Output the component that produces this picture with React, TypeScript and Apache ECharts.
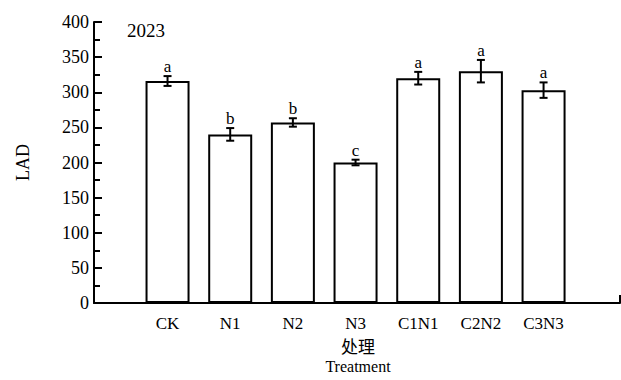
import React, { useEffect, useRef } from "react";
import * as echarts from "echarts";

const categories = ["CK", "N1", "N2", "N3", "C1N1", "C2N2", "C3N3"];
const ladValues = [316, 240, 257, 200, 320, 330, 303];
const ladErrors = [7, 9, 6, 4, 9, 16, 11];
const sigLetters = ["a", "b", "b", "c", "a", "a", "a"];
const yMin = 0;
const yMax = 400;
const yStep = 50;

const SERIF = "Liberation Serif, Times New Roman, serif";
const CJK = "Noto Sans CJK SC, sans-serif";

export default function App() {
  const ref = useRef<HTMLDivElement>(null);
  useEffect(() => {
    if (!ref.current) return;
    const chart = echarts.init(ref.current, null, { renderer: "svg" });
    const errData = categories.map((_, i) => [i, ladValues[i], ladErrors[i]]);
    chart.setOption({
      animation: false,
      backgroundColor: "#fff",
      grid: [
        { left: 94, top: 22, width: 526, height: 281 },
        { left: 136.2, top: 22, width: 438.7, height: 281 },
      ],
      xAxis: [
        {
          gridIndex: 0,
          type: "value",
          min: 0,
          max: 1,
          interval: 1,
          axisLine: { show: true, lineStyle: { color: "#000", width: 2 } },
          axisTick: { show: true, inside: true, length: 8, lineStyle: { color: "#000", width: 2 } },
          axisLabel: { show: false },
          splitLine: { show: false },
        },
        {
          gridIndex: 1,
          type: "category",
          data: categories,
          axisLine: { show: false },
          axisTick: { show: false },
          axisLabel: { color: "#000", fontFamily: SERIF, fontSize: 17, margin: 12 },
          splitLine: { show: false },
        },
      ],
      yAxis: [
        {
          gridIndex: 0,
          type: "value",
          min: yMin,
          max: yMax,
          interval: yStep,
          name: "LAD",
          nameLocation: "middle",
          nameRotate: 90,
          nameGap: 62,
          nameTextStyle: { color: "#000", fontFamily: SERIF, fontSize: 18 },
          axisLine: { show: true, lineStyle: { color: "#000", width: 2 } },
          axisTick: { show: true, inside: true, length: 8, lineStyle: { color: "#000", width: 2 } },
          minorTick: { show: true, splitNumber: 2, length: 6, lineStyle: { color: "#000", width: 2 } },
          axisLabel: { color: "#000", fontFamily: SERIF, fontSize: 18, margin: 5 },
          splitLine: { show: false },
        },
        {
          gridIndex: 1,
          type: "value",
          min: yMin,
          max: yMax,
          interval: yStep,
          show: false,
        },
      ],
      series: [
        {
          type: "bar",
          xAxisIndex: 1,
          yAxisIndex: 1,
          data: ladValues,
          barWidth: 44,
          itemStyle: { color: "#fff", borderColor: "#000", borderWidth: 2 },
          z: 2,
        },
        {
          type: "custom",
          xAxisIndex: 1,
          yAxisIndex: 1,
          data: errData,
          z: 5,
          renderItem: (params: any, api: any) => {
            const x = api.value(0);
            const m = api.value(1);
            const e = api.value(2);
            const top = api.coord([x, m + e]);
            const bot = api.coord([x, m - e]);
            const cx = top[0];
            const hw = 4;
            const st = { stroke: "#000", lineWidth: 2 };
            return {
              type: "group",
              children: [
                { type: "line", shape: { x1: cx, y1: top[1], x2: cx, y2: bot[1] }, style: st },
                { type: "line", shape: { x1: cx - hw, y1: top[1], x2: cx + hw, y2: top[1] }, style: st },
                { type: "line", shape: { x1: cx - hw, y1: bot[1], x2: cx + hw, y2: bot[1] }, style: st },
                {
                  type: "text",
                  x: cx,
                  y: top[1] - 1,
                  style: {
                    text: sigLetters[params.dataIndex],
                    textAlign: "center",
                    textVerticalAlign: "bottom",
                    fontFamily: SERIF,
                    fontSize: 17,
                    fill: "#000",
                  },
                },
              ],
            };
          },
        },
      ],
      graphic: [
        {
          type: "text",
          x: 127,
          y: 30,
          style: { text: "2023", fontFamily: SERIF, fontSize: 19, fill: "#000", textVerticalAlign: "middle" },
        },
        {
          type: "text",
          x: 358,
          y: 345,
          style: { text: "处理", fontFamily: CJK, fontSize: 17, fill: "#000", textAlign: "center", textVerticalAlign: "middle" },
        },
        {
          type: "text",
          x: 358,
          y: 366,
          style: { text: "Treatment", fontFamily: SERIF, fontSize: 16, fill: "#000", textAlign: "center", textVerticalAlign: "middle" },
        },
      ],
    });
    return () => chart.dispose();
  }, []);
  return (
    <div
      ref={ref}
      style={{ position: "fixed", left: 0, top: 0, width: 621, height: 380, background: "#fff" }}
    />
  );
}
